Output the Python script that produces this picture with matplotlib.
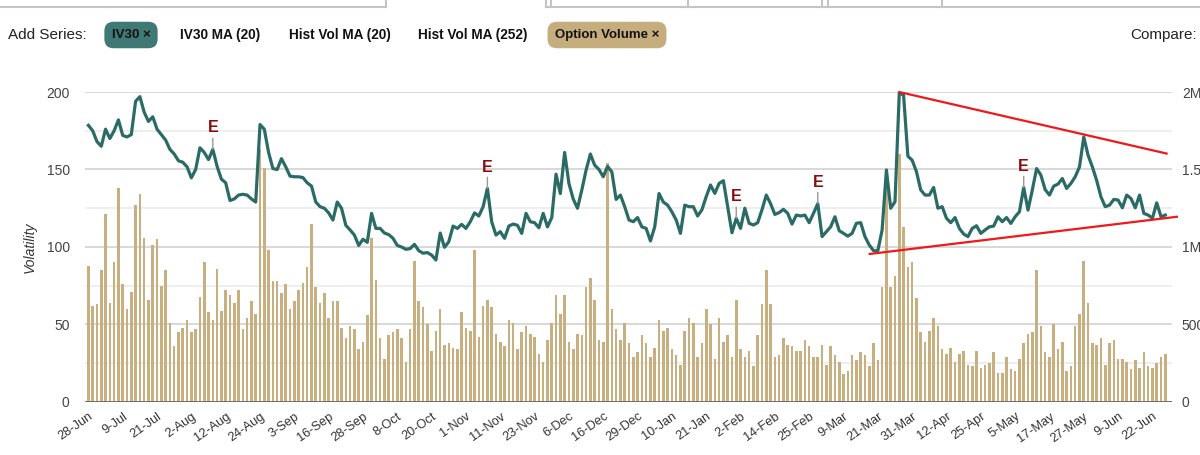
import numpy as np
import matplotlib.pyplot as plt
from matplotlib.lines import Line2D

# tick labels, one every 8 trading days
date_labels = ['28-Jun', '9-Jul', '21-Jul', '2-Aug', '12-Aug', '24-Aug', '3-Sep', '16-Sep',
               '28-Sep', '8-Oct', '20-Oct', '1-Nov', '11-Nov', '23-Nov', '6-Dec', '16-Dec',
               '29-Dec', '10-Jan', '21-Jan', '2-Feb', '14-Feb', '25-Feb', '9-Mar', '21-Mar',
               '31-Mar', '12-Apr', '25-Apr', '5-May', '17-May', '27-May', '9-Jun', '22-Jun']

# IV30 (left axis)
iv30 = [178.5, 175, 168, 165, 176, 170, 175, 182, 172, 171,
        172.5, 194, 197, 187, 181, 184, 176, 172.5, 169, 163,
        160, 155.6, 154.7, 151.7, 144.6, 150, 164, 161, 156.4, 163,
        152, 143.8, 141.4, 130, 131, 133.5, 134, 133.5, 131, 129,
        179, 176, 161, 150.6, 150, 157, 151.7, 145.7, 145.3, 145.3,
        144.8, 141.4, 139.3, 129, 126, 125, 122, 117.4, 129,
        125, 114, 111, 107.7, 101, 105, 103, 121.7, 112, 112,
        109, 108, 105.6, 101, 100, 98.5, 99, 101.7, 97.6, 96,
        96.4, 94.8, 91.6, 109, 99.8, 103.4, 113.5, 112, 114.6, 112,
        116.3, 122, 120, 126, 137.8, 116.3, 107.7, 109.9, 105.6, 113.5,
        114.8, 114, 108.8, 121.7, 116.3, 115.7, 112.4, 121.7, 113, 119,
        147, 134.5, 161, 141, 131, 125, 136.7, 149.6, 160, 152.8,
        150, 145.3, 152, 148.5, 130.7, 133.5, 126,
        117.4, 116.3, 119, 113, 112, 103.9, 113, 134.5, 129, 127,
        122.7, 117.4, 108.8, 127,
        126, 126, 120, 124, 132.5, 140, 134.6, 141, 142.8, 126,
        109.2, 118.5, 112, 125, 115.3, 114.2, 115.7, 124, 133.5, 128,
        121, 122.2, 124.3, 121.7, 114.8, 120.6, 120,
        120.6, 115.7, 121.7, 128, 106.7, 109.9, 113, 119.5, 110.5, 108.8,
        107, 108.8, 115.3, 115.7, 106.7, 101.3, 97.6, 97.6, 111, 149.7,
        125, 129.2,
        199.4, 198, 158.6, 156, 148.6, 136.8, 133.5, 133.5, 138.4, 125,
        126, 118.5, 115.7, 119, 112, 108.4, 106.7, 112, 113.7, 108.8,
        111, 113, 113.5, 119.5, 116.3, 119, 115.2, 119.5, 122.7, 138.4,
        123.8, 136.7, 150.6, 146.4, 137, 133.5, 139.3, 140.6, 144.2, 137.8,
        141, 145.3, 151.7, 171, 159.2, 151.7, 143, 132.4, 126, 127,
        130.7, 130.3, 125.3, 133.5, 131.3, 125.3, 133.5, 121.7, 120.6, 118.5,
        128.5, 119.5, 120.6]

# option volume in thousands (right axis)
volume_k = np.array([
    88, 62, 63, 85, 121, 64, 90, 138, 76, 60, 71, 127, 134, 106, 66, 101, 105, 75, 85, 51,
    36, 45, 48, 53, 45, 47, 68, 90, 58, 53, 86, 59, 72, 69, 64, 72, 47, 54, 65, 57,
    163, 151, 98, 78, 78, 70, 76, 60, 65, 72, 77, 87, 115, 74, 64, 70, 54, 65, 65,
    48, 41, 49, 47, 34, 39, 56, 106, 79, 41, 28, 43, 45, 47, 41, 26, 47, 91, 65, 61,
    50, 33, 46, 60, 37, 38, 35, 34, 58, 48, 46, 98, 42, 62, 66, 61, 44, 39, 36, 53,
    51, 34, 45, 49, 44, 42, 31, 26, 40, 51, 69, 57, 69, 39, 34, 44, 43, 74, 80, 66,
    40, 39, 154, 60, 47, 40, 51,
    38, 29, 32, 43, 38, 29, 35, 53, 46, 48, 34, 30, 24, 46, 54, 51, 29, 38, 60, 50,
    28, 54, 39, 43, 29, 66, 34, 29, 33, 23, 43, 63, 85, 63, 29, 30, 41, 37, 36, 33,
    33, 40, 36, 29, 29, 37, 24, 36, 30, 26, 18, 20, 30, 27, 32, 30, 23, 38, 27, 74,
    150, 74, 81, 160, 113, 87, 90, 67,
    45, 39, 46, 54, 49, 34, 31, 35, 26, 31, 33, 24, 23, 33, 22, 24, 25, 32, 19, 19,
    29, 21, 20, 28, 38, 44, 45, 85, 49, 32, 29, 50, 34, 39, 20, 23, 49, 57, 91, 64,
    38, 37, 41, 24, 38, 40, 28, 28, 26, 21, 27, 22, 32, 23, 22, 25, 29, 31]) * 10

earnings_idx = [29, 93, 151, 170, 218]

# hand drawn trend lines (index, IV30)
upper_trend_x = [189, 251.3]
upper_trend_y = [200, 160.3]
lower_trend_x = [182.1, 253.7]
lower_trend_y = [95.5, 119.5]

plt.rcParams['font.family'] = ['Liberation Sans', 'DejaVu Sans']

fig = plt.figure(figsize=(12, 4.55), dpi=100)
ax = fig.add_axes([0.0708, 0.1165, 0.906, 0.6813])
ax2 = ax.twinx()
ax.set_zorder(ax2.get_zorder() + 1)
ax.patch.set_visible(False)

x = np.arange(len(iv30))

# volume bars + grid on the back axis
ax2.bar(x, volume_k, width=0.6, color='#C8AF80')
ax2.set_ylim(0, 2000)
ax2.set_yticks([0, 500, 1000, 1500, 2000])
ax2.set_yticklabels(['0', '500k', '1M', '1.5M', '2M'])
ax2.set_yticks(np.arange(250, 2000, 500), minor=True)
ax2.grid(which='major', axis='y', color='#d2d2d2', lw=1.2)
ax2.grid(which='minor', axis='y', color='#ebebeb', lw=1.2)
ax2.set_axisbelow(True)
ax2.tick_params(axis='y', which='both', length=0, pad=7, labelsize=10, labelcolor='#444')

# IV30 line
ax.plot(x, iv30, color='#2B6B66', lw=2.3, zorder=3)
ax.axhline(0, color='#666', lw=2, zorder=4)
ax.set_ylim(0, 200)
ax.set_xlim(-0.8, 252.6)
ax.set_yticks([0, 50, 100, 150, 200])
ax.tick_params(axis='y', length=0, pad=11, labelsize=10, labelcolor='#444')
ax.set_ylabel('Volatility', style='italic', fontsize=10, color='#333')
ax.yaxis.set_label_coords(-0.044, 0.5)

ax.set_xticks(x[::8][:len(date_labels)])
ax.set_xticklabels(date_labels, rotation=35, ha='right', rotation_mode='anchor')
ax.tick_params(axis='x', length=0, pad=6, labelsize=9.2, labelcolor='#333')

for a in (ax, ax2):
    for s in a.spines.values():
        s.set_visible(False)

for i in earnings_idx:
    ax.annotate('E', xy=(i, iv30[i]), xytext=(0, 10), textcoords='offset points',
                ha='center', va='bottom', color='#8B0A0A', fontweight='bold', fontsize=11.5,
                arrowprops=dict(arrowstyle='-', color='#999', lw=1, shrinkA=0, shrinkB=0),
                zorder=5)

ax.plot(upper_trend_x, upper_trend_y, color='#F01818', lw=1.6, clip_on=False, zorder=6)
ax.plot(lower_trend_x, lower_trend_y, color='#F01818', lw=1.6, clip_on=False, zorder=6)

# header controls
ty = 1 - 35 / 455
fig.text(8 / 1200, ty, 'Add Series:', fontsize=11, va='center', color='#222')
fig.text(131 / 1200, ty, 'IV30 \u00d7', ha='center', va='center', fontsize=9.5,
         fontweight='bold', color='#111',
         bbox=dict(boxstyle='round,pad=0.55,rounding_size=0.7', fc='#3F7874', ec='none'))
for lbl, cx in [('IV30 MA (20)', 220), ('Hist Vol MA (20)', 340), ('Hist Vol MA (252)', 473)]:
    fig.text(cx / 1200, ty, lbl, ha='center', va='center', fontsize=9.8, fontweight='bold', color='#111')
fig.text(607 / 1200, ty, 'Option Volume \u00d7', ha='center', va='center', fontsize=9.5,
         fontweight='bold', color='#111',
         bbox=dict(boxstyle='round,pad=0.55,rounding_size=0.7', fc='#C6AD7D', ec='none'))
fig.text(1197 / 1200, ty, 'Compare:', ha='right', va='center', fontsize=11, color='#222')

# tab outlines at the very top
top = 1 - 7 / 455
lc = '#c4c4c4'
fig.add_artist(Line2D([0, 386 / 1200], [top, top], color=lc, lw=1.5))
fig.add_artist(Line2D([546 / 1200, 1], [top, top], color=lc, lw=1.5))
for vx in [386, 546, 551, 688, 822, 828, 942]:
    fig.add_artist(Line2D([vx / 1200, vx / 1200], [top, 1], color=lc, lw=1.5))

fig.savefig('out.png', dpi=100)
